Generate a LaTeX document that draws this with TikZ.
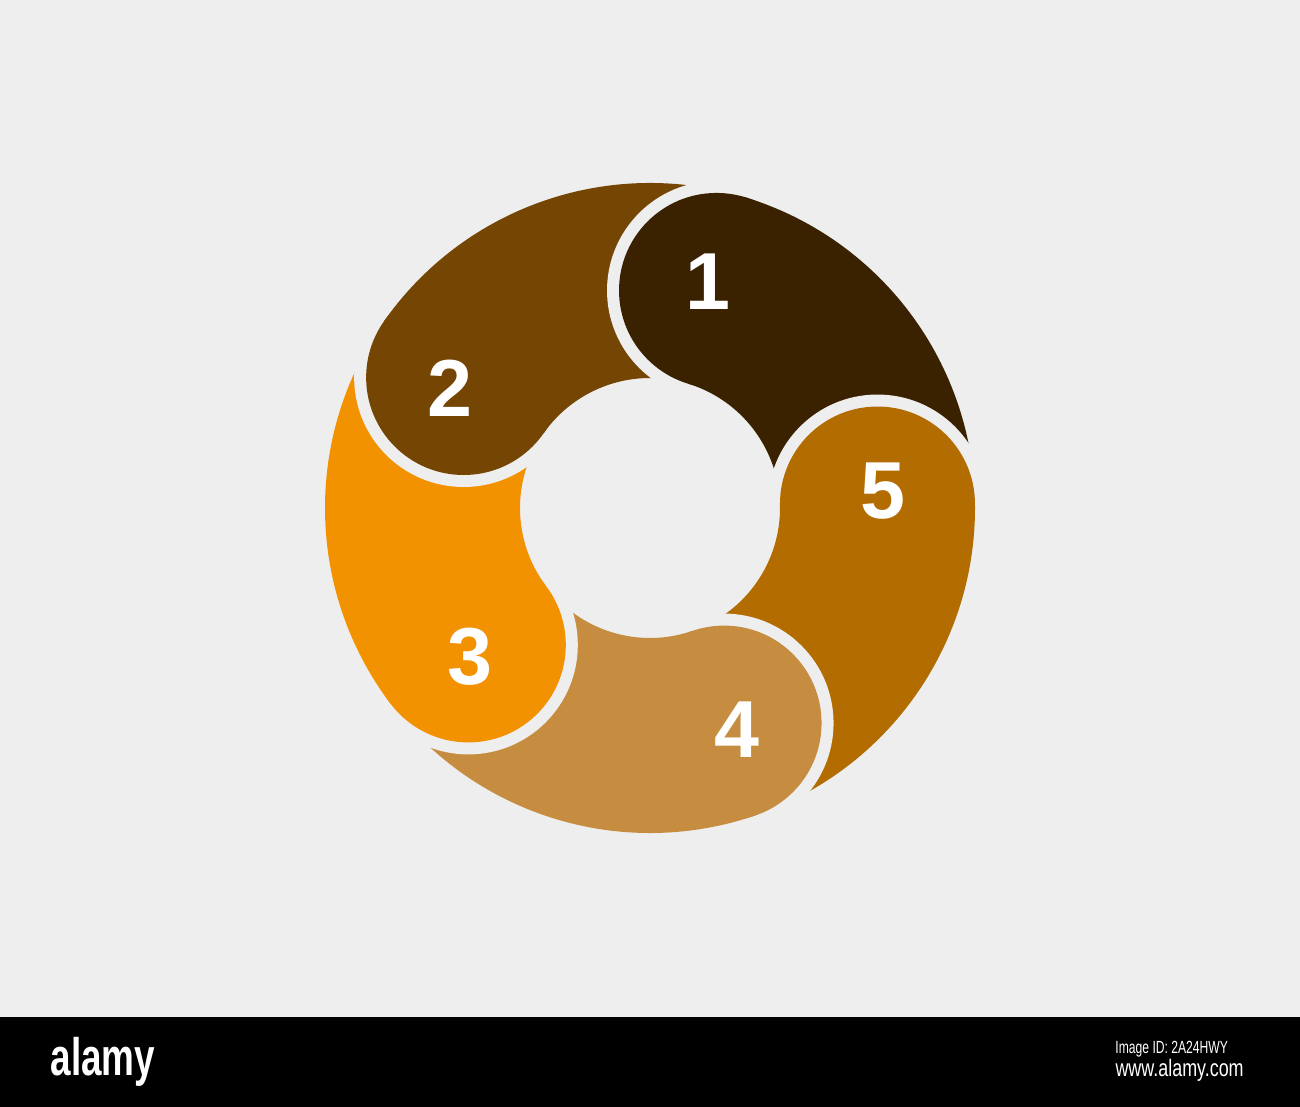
\documentclass[tikz,border=0pt]{standalone}
\usepackage{fontspec}
\setmainfont{Liberation Sans}
\usetikzlibrary{calc}

\definecolor{bgGray}{HTML}{EEEEEE}
\definecolor{segA}{HTML}{3A2200}
\definecolor{segB}{HTML}{754503}
\definecolor{segC}{HTML}{F39200}
\definecolor{segD}{HTML}{C68D40}
\definecolor{segE}{HTML}{B26C00}

\tikzstyle{myNum} = [text=white, inner sep=0pt,
    font=\bfseries\fontsize{23}{26}\selectfont]
\tikzstyle{myLogo} = [text=white, inner sep=0pt, anchor=west,
    font=\bfseries\fontsize{15}{17}\selectfont, xscale=0.7]
\tikzstyle{mySmall} = [text=white, inner sep=0pt, anchor=west,
    font=\fontsize{5}{6}\selectfont, xscale=0.69]
\tikzstyle{myWeb} = [text=white, inner sep=0pt, anchor=west,
    font=\fontsize{6.8}{8}\selectfont, xscale=0.75]

\begin{document}
\begin{tikzpicture}[x=0.1mm, y=0.1mm]

\useasboundingbox (0,0) rectangle (1300,1107);
\fill[bgGray] (0,0) rectangle (1300,1107);
\fill[black] (0,0) rectangle (1300,90);
\coordinate (C) at (650,599);

% ring sectors
\foreach \a/\col [evaluate=\a as \b using \a+72] in
    {1/segA, 73/segB, 145/segC, 217/segD, 289/segE} {
  \fill[\col] ($(C)+(\a:325)$) arc[start angle=\a, end angle=\b, radius=325]
    -- ($(C)+(\b:130)$) arc[start angle=\b, end angle=\a, radius=130] -- cycle;
}

% round heads with gap
\foreach \b/\col in {73/segA, 145/segB, 217/segC, 289/segD, 361/segE} {
  \begin{scope}
    \clip (C) -- ++(\b:500) -- ++(\b+90:500) -- ++(\b+180:1000)
      -- ++(\b-90:500) -- cycle;
    \fill[bgGray] ($(C)+(\b:227.5)$) circle[radius=109.5];
  \end{scope}
  \fill[\col] ($(C)+(\b:227.5)$) circle[radius=97.5];
}

\node[myNum] (n1) at (708,825) {1};
\node[myNum] (n2) at (450,719) {2};
\node[myNum] (n3) at (470,450) {3};
\node[myNum] (n4) at (737,377) {4};
\node[myNum] (n5) at (883,616) {5};

\node[myLogo] (logo) at (50,45) {alamy};
\node[mySmall] (imgId) at (1115,58) {Image ID: 2A24HWY};
\node[myWeb] (web) at (1115,37) {www.alamy.com};
\end{tikzpicture}
\end{document}
